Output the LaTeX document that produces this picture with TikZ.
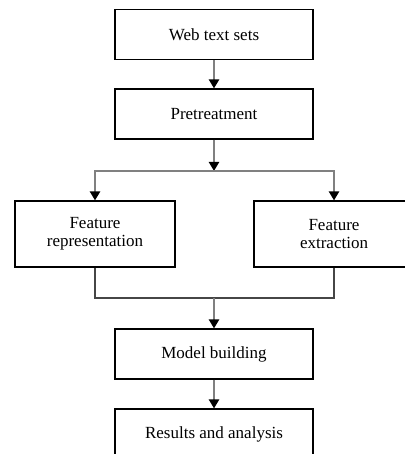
\documentclass[tikz,border=0pt]{standalone}
\usepackage{fontspec}
\setmainfont{Liberation Serif}
\usetikzlibrary{arrows.meta}
\begin{document}
\begin{tikzpicture}[x=1pt,y=-1pt,
  box/.style={draw=black,line width=1.1pt,fill=white,minimum width=198pt,minimum height=50pt,inner sep=0pt,font=\fontsize{17}{18}\selectfont,align=center},
  sbox/.style={box,minimum width=160pt,minimum height=66pt},
  conn/.style={draw={rgb,255:red,128;green,128;blue,128},line width=2.2pt,-{Triangle[width=10pt,length=9pt,black,fill=black]}},
  plain/.style={draw={rgb,255:red,70;green,70;blue,70},line width=1.6pt}]
\useasboundingbox (0,0) rectangle (404,454);
\node[box] (web) at (214,34.5) {Web text sets};
\node[box] (pre) at (214,114) {Pretreatment};
\node[sbox] (rep) at (95,234) {Feature\\representation};
\node[sbox] (ext) at (334,234) {Feature\\extraction};
\node[box] (mod) at (214,354) {Model building};
\node[box] (res) at (214,434) {Results and analysis};
\coordinate (split) at (214,171);
\coordinate (jl) at (95,298);
\coordinate (jr) at (334,298);
\coordinate (join) at (214,298);
\draw[conn] (web.south) -- (pre.north);
\draw[conn] (pre.south) -- (split);
\draw[conn] (split) -| (rep.north);
\draw[conn] (split) -| (ext.north);
\draw[plain] (rep.south) -- (jl) -- (jr) -- (ext.south);
\draw[conn] (join) -- (mod.north);
\draw[conn] (mod.south) -- (res.north);
\end{tikzpicture}
\end{document}
